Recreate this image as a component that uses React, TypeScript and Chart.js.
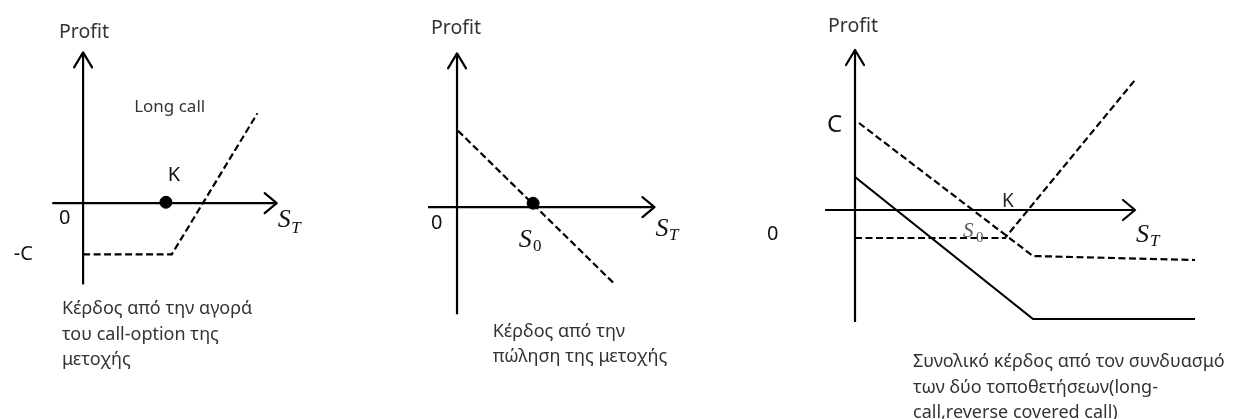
import React, { useEffect, useRef } from "react";
import { Chart, registerables } from "chart.js";

Chart.register(...registerables);

// ---- Panel 1: long call ----
const longCallST = [0, 9.2, 18.1];
const longCallProfit = [-5.3, -5.3, 9.3];
const strikePanel1 = 8.6;
const axis1X = [-3.2, 20.1];
const axis1Y = [-8.4, 15.6];

// ---- Panel 2: short stock ----
const shortStockST = [0.1, 16.4];
const shortStockProfit = [7.9, -8.0];
const spotPanel2 = 7.9;
const axis2X = [-3.0, 20.5];
const axis2Y = [-11.1, 15.9];

// ---- Panel 3: combined position ----
const comboShortST = [0.4, 17.8, 34.0];
const comboShortProfit = [8.7, -4.6, -5.0];
const comboCallST = [0, 15.0, 28.0];
const comboCallProfit = [-2.8, -2.8, 13.0];
const comboTotalST = [0, 17.8, 34.0];
const comboTotalProfit = [3.3, -10.9, -10.9];
const axis3X = [-3.0, 28.0];
const axis3Y = [-11.2, 16.0];

// ---- Text ----
const panel1Labels = [
  { text: "Profit", x: 0.1, y: 17.1, style: "axisTitle", align: "center" },
  { text: "Long call", x: 5.3, y: 9.4, style: "note" },
  { text: "K", x: 8.8, y: 2.3, style: "mark" },
  { text: "0", x: -2.5, y: -2.2, style: "mark" },
  { text: "-C", x: -7.2, y: -5.9, style: "mark" },
  { text: "S", x: 20.2, y: -2.5, style: "mathS" },
  { text: "T", x: 21.6, y: -3.1, style: "mathSub" },
];
const panel1Caption = ["Κέρδος από την αγορά", "του call-option της", "μετοχής"];
const panel1CaptionAt = [-2.2, -11.5];

const panel2Labels = [
  { text: "Profit", x: -0.1, y: 17.9, style: "axisTitle", align: "center" },
  { text: "0", x: -2.7, y: -2.3, style: "mark" },
  { text: "S", x: 6.4, y: -4.1, style: "mathS" },
  { text: "0", x: 7.9, y: -4.5, style: "mathSubUp" },
  { text: "S", x: 20.6, y: -3.0, style: "mathS" },
  { text: "T", x: 22.0, y: -3.4, style: "mathSub" },
];
const panel2Caption = ["Κέρδος από την", "πώληση της μετοχής"];
const panel2CaptionAt = [3.7, -13.4];

const panel3Labels = [
  { text: "Profit", x: -0.2, y: 17.8, style: "axisTitle", align: "center" },
  { text: "C", x: -2.8, y: 7.8, style: "markLarge" },
  { text: "0", x: -8.8, y: -3.0, style: "mark" },
  { text: "K", x: 14.7, y: 0.3, style: "markSoft" },
  { text: "S", x: 10.8, y: -2.7, style: "mathSSoft" },
  { text: "0", x: 12.1, y: -3.2, style: "mathSubSoft" },
  { text: "S", x: 28.1, y: -3.2, style: "mathS" },
  { text: "T", x: 29.5, y: -3.6, style: "mathSub" },
];
const panel3Caption = [
  "Συνολικό κέρδος από τον συνδυασμό",
  "των δύο τοποθετήσεων(long-",
  "call,reverse covered call)",
];
const panel3CaptionAt = [5.8, -15.7];

const SANS = '"Noto Sans", "DejaVu Sans", sans-serif';
const MATH = '"Liberation Serif", "DejaVu Serif", serif';
const TEXT = "#333";

const textStyles: Record<string, { font: string; color: string }> = {
  axisTitle: { font: `19.5px ${SANS}`, color: TEXT },
  note: { font: `17px ${SANS}`, color: TEXT },
  mark: { font: `20px ${SANS}`, color: "#111" },
  markLarge: { font: `24px ${SANS}`, color: "#111" },
  markSoft: { font: `19px ${SANS}`, color: "#222" },
  mathS: { font: `italic 26px ${MATH}`, color: "#111" },
  mathSub: { font: `italic 17px ${MATH}`, color: "#111" },
  mathSubUp: { font: `17px ${MATH}`, color: "#111" },
  mathSSoft: { font: `italic 21px ${MATH}`, color: "#555" },
  mathSubSoft: { font: `15px ${MATH}`, color: "#555" },
  caption: { font: `18px ${SANS}`, color: TEXT },
};

const pts = (xs: number[], ys: number[]) => xs.map((x, i) => ({ x, y: ys[i] }));

// Draws the open arrowheads on the axes plus all labels and captions.
const diagramDecor = {
  id: "diagramDecor",
  afterDatasetsDraw(chart: any, _args: any, opts: any) {
    const { ctx } = chart;
    const sx = chart.scales.x;
    const sy = chart.scales.y;
    ctx.save();
    ctx.strokeStyle = "#000";
    ctx.lineWidth = 2.2;
    ctx.lineCap = "round";
    ctx.lineJoin = "round";
    const tipX = sx.getPixelForValue(opts.axisX[1]);
    const tipY0 = sy.getPixelForValue(0);
    ctx.beginPath();
    ctx.moveTo(tipX - 12, tipY0 - 10);
    ctx.lineTo(tipX, tipY0);
    ctx.lineTo(tipX - 12, tipY0 + 10);
    ctx.stroke();
    const upX = sx.getPixelForValue(0);
    const upY = sy.getPixelForValue(opts.axisY[1]);
    ctx.beginPath();
    ctx.moveTo(upX - 9, upY + 15);
    ctx.lineTo(upX, upY);
    ctx.lineTo(upX + 9, upY + 15);
    ctx.stroke();

    ctx.textBaseline = "alphabetic";
    for (const l of opts.labels) {
      const st = textStyles[l.style];
      ctx.font = st.font;
      ctx.fillStyle = st.color;
      ctx.textAlign = l.align || "left";
      ctx.fillText(l.text, sx.getPixelForValue(l.x), sy.getPixelForValue(l.y));
    }
    const cap = textStyles.caption;
    ctx.font = cap.font;
    ctx.fillStyle = cap.color;
    ctx.textAlign = "left";
    const cx = sx.getPixelForValue(opts.captionAt[0]);
    const cy = sy.getPixelForValue(opts.captionAt[1]);
    opts.caption.forEach((line: string, i: number) => {
      ctx.fillText(line, cx, cy + i * 25.5);
    });
    ctx.restore();
  },
};

const axisSet = (xr: number[], yr: number[]) => [
  { data: pts(xr, [0, 0]), borderColor: "#000", borderWidth: 2.2, showLine: true, pointRadius: 0, clip: false },
  { data: pts([0, 0], yr), borderColor: "#000", borderWidth: 2.2, showLine: true, pointRadius: 0, clip: false },
];

const dashed = (xs: number[], ys: number[]) => ({
  data: pts(xs, ys),
  borderColor: "#000",
  borderWidth: 2.2,
  borderDash: [7, 3.5],
  showLine: true,
  pointRadius: 0,
  tension: 0,
  clip: false,
});

const solid = (xs: number[], ys: number[]) => ({
  data: pts(xs, ys),
  borderColor: "#000",
  borderWidth: 2.2,
  showLine: true,
  pointRadius: 0,
  tension: 0,
  clip: false,
});

const dot = (x: number, y: number) => ({
  data: [{ x, y }],
  showLine: false,
  pointRadius: 6,
  pointBackgroundColor: "#000",
  pointBorderColor: "#000",
  clip: false,
});

type PanelDef = {
  left: number;
  width: number;
  xRange: number[];
  yRange: number[];
  datasets: any[];
  decor: any;
};

const panels: PanelDef[] = [
  {
    left: 0,
    width: 380,
    xRange: [-7.9, 30.1],
    yRange: [-21.6, 20.3],
    datasets: [
      ...axisSet(axis1X, axis1Y),
      dashed(longCallST, longCallProfit),
      dot(strikePanel1, 0.1),
    ],
    decor: { axisX: axis1X, axisY: axis1Y, labels: panel1Labels, caption: panel1Caption, captionAt: panel1CaptionAt },
  },
  {
    left: 380,
    width: 380,
    xRange: [-7.27, 30.73],
    yRange: [-21.2, 20.7],
    datasets: [
      ...axisSet(axis2X, axis2Y),
      dashed(shortStockST, shortStockProfit),
      dot(spotPanel2, 0.4),
    ],
    decor: { axisX: axis2X, axisY: axis2Y, labels: panel2Labels, caption: panel2Caption, captionAt: panel2CaptionAt },
  },
  {
    left: 760,
    width: 477,
    xRange: [-9.5, 38.2],
    yRange: [-20.9, 21.0],
    datasets: [
      ...axisSet(axis3X, axis3Y),
      dashed(comboShortST, comboShortProfit),
      dashed(comboCallST, comboCallProfit),
      solid(comboTotalST, comboTotalProfit),
    ],
    decor: { axisX: axis3X, axisY: axis3Y, labels: panel3Labels, caption: panel3Caption, captionAt: panel3CaptionAt },
  },
];

const HEIGHT = 419;

function Panel({ def }: { def: PanelDef }) {
  const ref = useRef<HTMLCanvasElement | null>(null);
  useEffect(() => {
    if (!ref.current) return;
    const chart = new Chart(ref.current, {
      type: "scatter",
      data: { datasets: def.datasets },
      options: {
        responsive: false,
        maintainAspectRatio: false,
        animation: false,
        layout: { padding: 0 },
        events: [],
        scales: {
          x: { type: "linear", min: def.xRange[0], max: def.xRange[1], display: false },
          y: { type: "linear", min: def.yRange[0], max: def.yRange[1], display: false },
        },
        plugins: {
          legend: { display: false },
          tooltip: { enabled: false },
          diagramDecor: def.decor,
        } as any,
      },
      plugins: [diagramDecor],
    });
    return () => chart.destroy();
  }, [def]);
  return (
    <canvas
      ref={ref}
      width={def.width}
      height={HEIGHT}
      style={{ position: "absolute", left: def.left, top: 0, width: def.width, height: HEIGHT, display: "block" }}
    />
  );
}

export default function App() {
  return (
    <div style={{ position: "fixed", left: 0, top: 0, width: 1237, height: HEIGHT, background: "#fff" }}>
      {panels.map((p, i) => (
        <Panel key={i} def={p} />
      ))}
    </div>
  );
}
